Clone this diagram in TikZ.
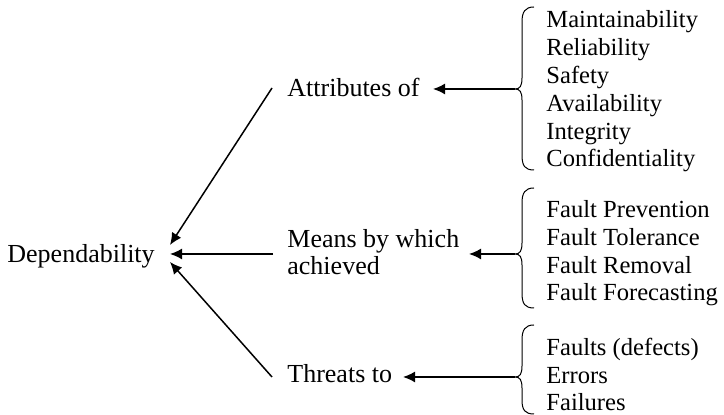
\documentclass[tikz,border=0pt]{standalone}
\usepackage{fontspec}
\setmainfont{Liberation Serif}
\usetikzlibrary{arrows.meta}
\begin{document}
\begin{tikzpicture}[x=0.5pt,y=-0.5pt,
  lbl/.style={anchor=base west,inner sep=0pt,font=\fontsize{13}{13.9}\selectfont},
  lst/.style={lbl,align=left,font=\fontsize{12.3}{13.9}\selectfont},
  arr/.style={-{Latex[length=6pt,width=5.5pt]},line width=0.75pt},
  brc/.style={line width=0.5pt}]
\useasboundingbox (0,0) rectangle (724,415);

% central concept
\node[lbl] (dep) at (7,263) {Dependability};

% the three aspects (multi-line nodes sit on their last baseline)
\node[lbl] (attr) at (287,97) {Attributes of};
\node[lbl,align=left] (means) at (287,275) {Means by which\\achieved};
\node[lbl] (threat) at (287,383) {Threats to};

% item lists
\node[lst] (attrlist) at (546,167) {Maintainability\\Reliability\\Safety\\Availability\\Integrity\\Confidentiality};
\node[lst] (meanslist) at (546,301) {Fault Prevention\\Fault Tolerance\\Fault Removal\\Fault Forecasting};
\node[lst] (threatlist) at (546,411) {Faults (defects)\\Errors\\Failures};

% arrow end points
\coordinate (dA) at (170,245);
\coordinate (dM) at (170,254);
\coordinate (dT) at (170,262);
\coordinate (aS) at (272,88);
\coordinate (mS) at (273,254);
\coordinate (tS) at (272,377);
\coordinate (attrTip) at (515,89);
\coordinate (meansTip) at (515,254);
\coordinate (threatTip) at (515,377);
\coordinate (attrEnd) at (433,89);
\coordinate (meansEnd) at (469,254);
\coordinate (threatEnd) at (403,377);

% arrows into the central concept
\draw[arr] (aS) -- (dA);
\draw[arr] (mS) -- (dM);
\draw[arr] (tS) -- (dT);

% arrows from the braces
\draw[arr] (attrTip) -- (attrEnd);
\draw[arr] (meansTip) -- (meansEnd);
\draw[arr] (threatTip) -- (threatEnd);

% braces
\draw[brc] (534,7) .. controls (525,7) and (522,12) .. (522,22) -- (522,78)
  .. controls (522,86) and (520,89) .. (attrTip)
  .. controls (520,89) and (522,92) .. (522,100) -- (522,155)
  .. controls (522,166) and (525,170) .. (534,170);
\draw[brc] (534,188) .. controls (525,188) and (522,193) .. (522,203) -- (522,243)
  .. controls (522,251) and (520,254) .. (meansTip)
  .. controls (520,254) and (522,257) .. (522,265) -- (522,293)
  .. controls (522,304) and (525,308) .. (534,308);
\draw[brc] (534,325) .. controls (525,325) and (522,330) .. (522,340) -- (522,366)
  .. controls (522,374) and (520,377) .. (threatTip)
  .. controls (520,377) and (522,380) .. (522,388) -- (522,400)
  .. controls (522,410) and (525,414) .. (534,414);
\end{tikzpicture}
\end{document}
